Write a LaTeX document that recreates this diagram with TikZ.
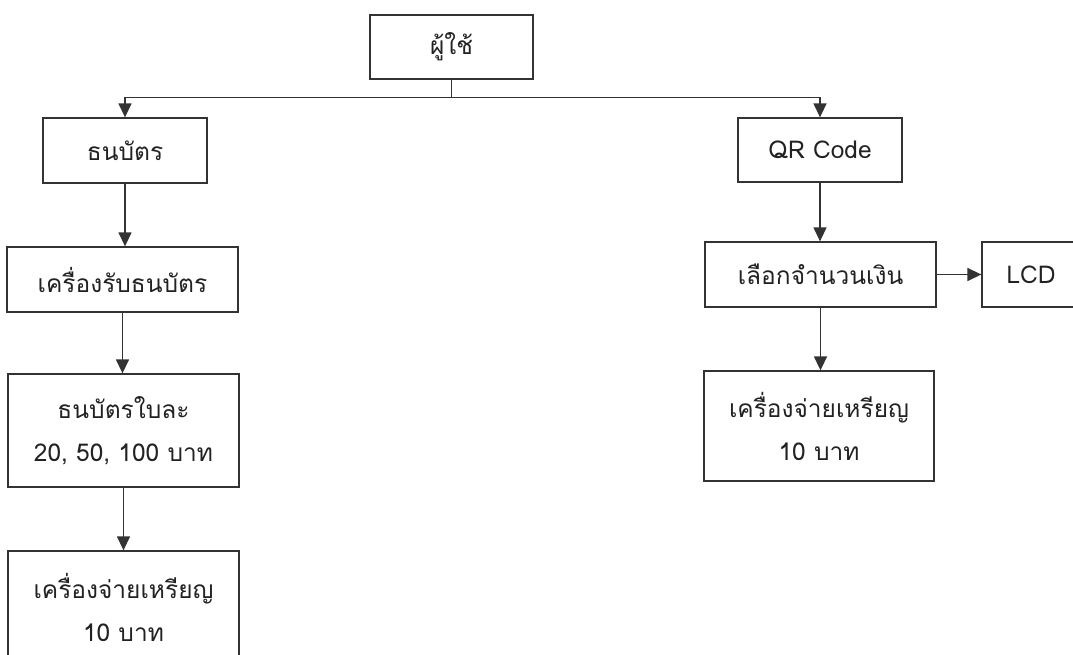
\documentclass[tikz,border=0pt]{standalone}
\usepackage{fontspec}
\setmainfont[Script=Thai]{Loma}
\usetikzlibrary{arrows.meta}
\definecolor{ink}{HTML}{222222}
\definecolor{wire}{HTML}{333333}
\begin{document}
\begin{tikzpicture}[x=1pt,y=-1pt,
  box/.style={draw=wire,line width=1.3pt,rectangle,inner sep=0pt,
    text=ink,font=\fontsize{24.5}{43}\selectfont,align=center},
  link/.style={draw=wire,line width=1.4pt,-{Triangle[length=14pt,width=13pt]}},
  plain/.style={draw=wire,line width=1.4pt}]
\useasboundingbox (0,0) rectangle (1073,655);
\clip (0,0) rectangle (1073,655);
% top node
\node[box,minimum width=163pt,minimum height=64pt] (user) at (451.5,47) {ผู้ใช้};
% banknote branch
\node[box,minimum width=164pt,minimum height=65pt] (bank) at (125,150.5) {ธนบัตร};
\node[box,minimum width=231pt,minimum height=65pt] (acceptor) at (122.5,279.5) {เครื่องรับธนบัตร};
\node[box,minimum width=231pt,minimum height=113pt] (notes) at (123.5,430.5) {ธนบัตรใบละ\\20, 50, 100 บาท};
\node[box,minimum width=231pt,minimum height=113pt] (coinL) at (123.5,607.5) {เครื่องจ่ายเหรียญ\\10 บาท};
% QR branch
\node[box,minimum width=164pt,minimum height=64pt] (qr) at (820,150) {QR Code};
\node[box,minimum width=231pt,minimum height=65pt] (amount) at (820.5,274.5) {เลือกจำนวนเงิน};
\node[box,minimum width=98pt,minimum height=65pt] (lcd) at (1031,274.5) {LCD};
\node[box,minimum width=230pt,minimum height=110pt] (coinR) at (819,426) {เครื่องจ่ายเหรียญ\\10 บาท};
% connectors
\draw[plain] (user.south) -- ++(0,18) coordinate (split);
\draw[link] (split) -| (bank.north);
\draw[link] (split) -| (qr.north);
\draw[link] (bank.south) -- (bank.south |- acceptor.north);
\draw[link] (acceptor.south) -- (acceptor.south |- notes.north);
\draw[link] (notes.south) -- (notes.south |- coinL.north);
\draw[link] (qr.south) -- (qr.south |- amount.north);
\draw[link] (amount.south) -- (amount.south |- coinR.north);
\draw[link] (amount.east) -- (lcd.west);
\end{tikzpicture}
\end{document}
